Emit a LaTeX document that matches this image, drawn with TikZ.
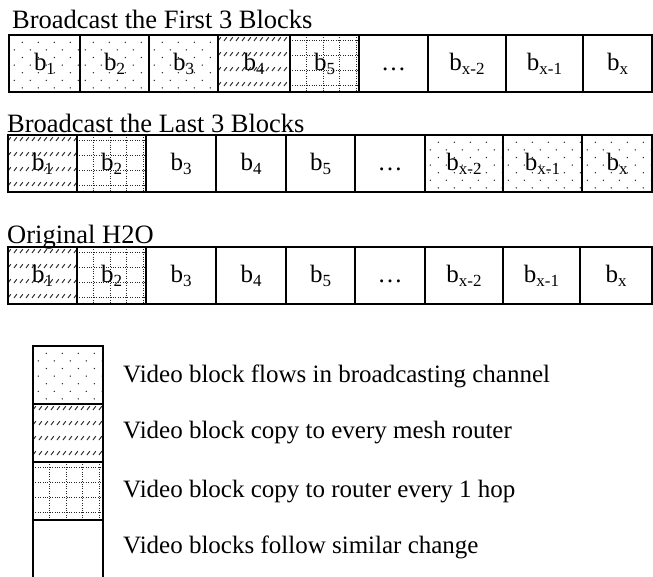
\documentclass[tikz,border=0pt]{standalone}
\usepackage{fontspec}
\setmainfont{Liberation Serif}
\usetikzlibrary{backgrounds}
\newcommand{\bsub}[1]{b\raisebox{-4.5pt}{\fontsize{17}{17}\selectfont #1}}
\newcommand{\patdots}[1]{%
  \begin{pgfonlayer}{background}\begin{scope}
    \clip (#1.north west) rectangle (#1.south east);
    \begin{scope}[shift={(#1.north west)}]
      \foreach \r in {0,...,7}{\foreach \c in {0,...,5}{
        \fill[dotcol] ({5.3+8*(1-mod(\r,2))+16*\c},{7.3+7.6*\r}) circle (0.75pt);}}
    \end{scope}
  \end{scope}\end{pgfonlayer}}
\newcommand{\pathatch}[1]{%
  \begin{pgfonlayer}{background}\begin{scope}
    \clip (#1.north west) rectangle (#1.south east);
    \begin{scope}[shift={(#1.north west)}]
      \foreach \r in {0,...,4}{\foreach \c in {0,...,13}{
        \draw[hatchcol, line width=1pt] ({\c*6},{6+15*\r}) -- ++(2.8pt,3.8pt);}}
    \end{scope}
  \end{scope}\end{pgfonlayer}}
\newcommand{\patgrid}[1]{%
  \begin{pgfonlayer}{background}\begin{scope}
    \clip (#1.north west) rectangle (#1.south east);
    \begin{scope}[shift={(#1.north west)}]
      \foreach \k in {16,33,49,66}{\draw[gridline] (\k,0) -- (\k,62);}
      \foreach \k in {5,20,35,50}{\draw[gridline] (0,\k) -- (80,\k);}
    \end{scope}
  \end{scope}\end{pgfonlayer}}
\colorlet{dotcol}{black!85}
\colorlet{hatchcol}{black!80}
\begin{document}
\begin{tikzpicture}[x=1pt,y=-1pt]
\tikzset{
  cell/.style={draw, line width=1.2pt, inner sep=0pt, outer sep=0pt, anchor=north west,
    minimum height=57pt, font=\fontsize{25}{25}\selectfont, text height=18pt, text depth=5pt},
  lcell/.style={draw, line width=1.2pt, inner sep=0pt, outer sep=0pt, anchor=north west,
    minimum width=70pt, minimum height=58pt},
  gridline/.style={black!85, line width=0.9pt, dash pattern=on 1pt off 1.4pt},
  ttl/.style={anchor=base west, inner sep=0pt, font=\fontsize{26.5}{26.5}\selectfont},
  ltxt/.style={anchor=base west, inner sep=0pt, font=\fontsize{25}{25}\selectfont}
}
\useasboundingbox (0,0) rectangle (653,576);

% Row 1
\node[ttl] (t1) at (12,28) {Broadcast the First 3 Blocks};
\node[cell, minimum width=71pt] (a1) at (9,35) {\bsub{1}};
\node[cell, minimum width=69pt] (a2) at (80,35) {\bsub{2}};
\node[cell, minimum width=69pt] (a3) at (149,35) {\bsub{3}};
\node[cell, minimum width=72pt] (a4) at (218,35) {\bsub{4}};
\node[cell, minimum width=69pt] (a5) at (290,35) {\bsub{5}};
\node[cell, minimum width=69pt] (a6) at (359,35) {…};
\node[cell, minimum width=78pt] (a7) at (428,35) {\bsub{x-2}};
\node[cell, minimum width=77pt] (a8) at (506,35) {\bsub{x-1}};
\node[cell, minimum width=69pt] (a9) at (583,35) {\bsub{x}};
\patdots{a1}\patdots{a2}\patdots{a3}\pathatch{a4}\patgrid{a5}

% Row 2
\node[ttl] (t2) at (7,132) {Broadcast the Last 3 Blocks};
\node[cell, minimum width=69pt] (b1) at (8,135) {\bsub{1}};
\node[cell, minimum width=69pt] (b2) at (77,135) {\bsub{2}};
\node[cell, minimum width=70pt] (b3) at (146,135) {\bsub{3}};
\node[cell, minimum width=70pt] (b4) at (216,135) {\bsub{4}};
\node[cell, minimum width=69pt] (b5) at (286,135) {\bsub{5}};
\node[cell, minimum width=70pt] (b6) at (355,135) {…};
\node[cell, minimum width=78pt] (b7) at (425,135) {\bsub{x-2}};
\node[cell, minimum width=79pt] (b8) at (503,135) {\bsub{x-1}};
\node[cell, minimum width=70pt] (b9) at (582,135) {\bsub{x}};
\pathatch{b1}\patgrid{b2}\patdots{b7}\patdots{b8}\patdots{b9}

% Row 3
\node[ttl] (t3) at (7,243) {Original H2O};
\node[cell, minimum width=69pt] (c1) at (8,247) {\bsub{1}};
\node[cell, minimum width=69pt] (c2) at (77,247) {\bsub{2}};
\node[cell, minimum width=70pt] (c3) at (146,247) {\bsub{3}};
\node[cell, minimum width=70pt] (c4) at (216,247) {\bsub{4}};
\node[cell, minimum width=69pt] (c5) at (286,247) {\bsub{5}};
\node[cell, minimum width=70pt] (c6) at (355,247) {…};
\node[cell, minimum width=78pt] (c7) at (425,247) {\bsub{x-2}};
\node[cell, minimum width=77pt] (c8) at (503,247) {\bsub{x-1}};
\node[cell, minimum width=72pt] (c9) at (580,247) {\bsub{x}};
\pathatch{c1}\patgrid{c2}

% Legend
\node[lcell] (l1) at (33,346) {};
\node[lcell] (l2) at (33,404) {};
\node[lcell] (l3) at (33,462) {};
\node[lcell, minimum height=70pt] (l4) at (33,520) {};
\patdots{l1}\pathatch{l2}\patgrid{l3}
\node[ltxt] (lt1) at (123,382) {Video block flows in broadcasting channel};
\node[ltxt] (lt2) at (123,438) {Video block copy to every mesh router};
\node[ltxt] (lt3) at (123,497) {Video block copy to router every 1 hop};
\node[ltxt] (lt4) at (123,553) {Video blocks follow similar change};
\end{tikzpicture}
\end{document}
